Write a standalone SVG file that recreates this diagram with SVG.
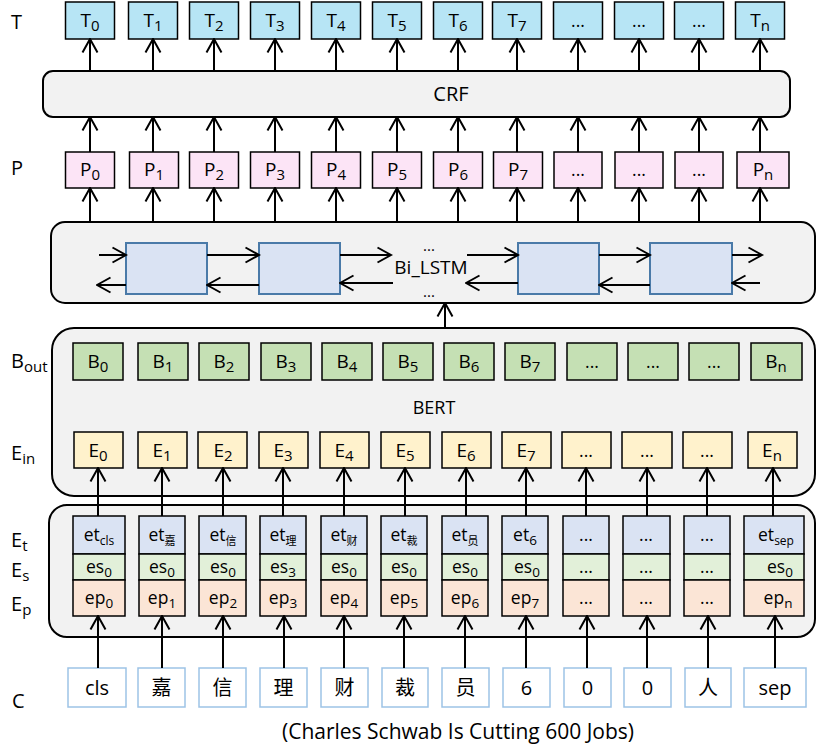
<svg xmlns="http://www.w3.org/2000/svg" width="816" height="750" viewBox="0 0 816 750">
<defs>
<marker id="arr" viewBox="0 0 16 18" refX="14.5" refY="9" markerWidth="16" markerHeight="18" markerUnits="userSpaceOnUse" orient="auto"><path d="M1,1.5 L14.5,9 L1,16.5" fill="none" stroke="#000" stroke-width="2"/></marker>
<style>
text{font-family:"Open Sans","Noto Sans CJK SC",sans-serif;fill:#000}
.t{fill:#b7e5f5;stroke:#000;stroke-width:1.5}
.p{fill:#fce4f6;stroke:#000;stroke-width:1.5}
.b{fill:#c5e0b4;stroke:#000;stroke-width:1.5}
.e{fill:#fff2cc;stroke:#000;stroke-width:1.5}
.et{fill:#dae3f3;stroke:#000;stroke-width:1.5}
.es{fill:#e2f0d9;stroke:#000;stroke-width:1.5}
.ep{fill:#fbe5d6;stroke:#000;stroke-width:1.5}
.c{fill:#fff;stroke:#9dc3e6;stroke-width:1.5}
.big{fill:#f2f2f2;stroke:#000;stroke-width:2}
.cell{fill:#dae3f3;stroke:#4a7aa8;stroke-width:2}
.lbl{font-size:19px;text-anchor:middle}
.sm{font-size:17.5px;text-anchor:middle}
.side{font-size:20px}
.cn{font-size:20px;text-anchor:middle}
.conn line{stroke:#000;stroke-width:2;marker-end:url(#arr)}
</style>
</defs>

<g id="side-labels">
<text class="side" x="11" y="29">T</text>
<text class="side" x="11" y="175">P</text>
<text class="side" x="11" y="368">B<tspan font-size="15" dy="4">out</tspan></text>
<text class="side" x="11" y="460">E<tspan font-size="15" dy="4">in</tspan></text>
<text class="side" x="11" y="547">E<tspan font-size="15" dy="4">t</tspan></text>
<text class="side" x="11" y="577">E<tspan font-size="15" dy="4">s</tspan></text>
<text class="side" x="11" y="611">E<tspan font-size="15" dy="4">p</tspan></text>
<text class="side" x="12" y="708">C</text>
</g>

<g id="crf"><rect class="big" x="43" y="71" width="747" height="46" rx="10"/><text x="451" y="101" font-size="20" text-anchor="middle">CRF</text></g>
<g id="bilstm"><rect class="big" x="51" y="222" width="764" height="81" rx="14"/>
<rect class="cell" x="126" y="243" width="81" height="51"/>
<rect class="cell" x="259" y="243" width="81" height="51"/>
<rect class="cell" x="518" y="243" width="81" height="51"/>
<rect class="cell" x="650" y="243" width="82" height="51"/>
<text x="431" y="274" font-size="19" text-anchor="middle">Bi_LSTM</text>
<text x="429" y="251" font-size="15" text-anchor="middle">...</text>
<text x="429" y="297" font-size="15" text-anchor="middle">...</text>
</g>
<g id="bert"><rect class="big" x="52" y="328" width="763" height="168" rx="22"/><text x="434" y="414" font-size="18" text-anchor="middle">BERT</text></g>
<g id="embedding"><rect class="big" x="49" y="505" width="766" height="132" rx="18"/></g>

<g id="T-row">
<g id="T0"><rect class="t" x="65.5" y="2" width="49" height="37"/><text class="lbl" x="90" y="27">T<tspan font-size="15" dy="4">0</tspan></text></g>
<g id="T1"><rect class="t" x="128.5" y="2" width="49" height="37"/><text class="lbl" x="153" y="27">T<tspan font-size="15" dy="4">1</tspan></text></g>
<g id="T2"><rect class="t" x="189.5" y="2" width="49" height="37"/><text class="lbl" x="214" y="27">T<tspan font-size="15" dy="4">2</tspan></text></g>
<g id="T3"><rect class="t" x="250.5" y="2" width="49" height="37"/><text class="lbl" x="275" y="27">T<tspan font-size="15" dy="4">3</tspan></text></g>
<g id="T4"><rect class="t" x="311.5" y="2" width="49" height="37"/><text class="lbl" x="336" y="27">T<tspan font-size="15" dy="4">4</tspan></text></g>
<g id="T5"><rect class="t" x="372.5" y="2" width="49" height="37"/><text class="lbl" x="397" y="27">T<tspan font-size="15" dy="4">5</tspan></text></g>
<g id="T6"><rect class="t" x="433.5" y="2" width="49" height="37"/><text class="lbl" x="458" y="27">T<tspan font-size="15" dy="4">6</tspan></text></g>
<g id="T7"><rect class="t" x="492.5" y="2" width="49" height="37"/><text class="lbl" x="517" y="27">T<tspan font-size="15" dy="4">7</tspan></text></g>
<g id="T8"><rect class="t" x="553.5" y="2" width="49" height="37"/><text class="sm" x="578" y="27">...</text></g>
<g id="T9"><rect class="t" x="614.5" y="2" width="49" height="37"/><text class="sm" x="639" y="27">...</text></g>
<g id="T10"><rect class="t" x="674.5" y="2" width="49" height="37"/><text class="sm" x="699" y="27">...</text></g>
<g id="Tn"><rect class="t" x="735.5" y="2" width="49" height="37"/><text class="lbl" x="760" y="27">T<tspan font-size="15" dy="4">n</tspan></text></g>
</g>

<g id="P-row">
<g id="P0"><rect class="p" x="65.5" y="152" width="49" height="36"/><text class="lbl" x="90" y="176">P<tspan font-size="15" dy="4">0</tspan></text></g>
<g id="P1"><rect class="p" x="129.5" y="152" width="49" height="36"/><text class="lbl" x="154" y="176">P<tspan font-size="15" dy="4">1</tspan></text></g>
<g id="P2"><rect class="p" x="189.5" y="152" width="49" height="36"/><text class="lbl" x="214" y="176">P<tspan font-size="15" dy="4">2</tspan></text></g>
<g id="P3"><rect class="p" x="250.5" y="152" width="49" height="36"/><text class="lbl" x="275" y="176">P<tspan font-size="15" dy="4">3</tspan></text></g>
<g id="P4"><rect class="p" x="311.5" y="152" width="49" height="36"/><text class="lbl" x="336" y="176">P<tspan font-size="15" dy="4">4</tspan></text></g>
<g id="P5"><rect class="p" x="372.5" y="152" width="49" height="36"/><text class="lbl" x="397" y="176">P<tspan font-size="15" dy="4">5</tspan></text></g>
<g id="P6"><rect class="p" x="433.5" y="152" width="49" height="36"/><text class="lbl" x="458" y="176">P<tspan font-size="15" dy="4">6</tspan></text></g>
<g id="P7"><rect class="p" x="493.5" y="152" width="49" height="36"/><text class="lbl" x="518" y="176">P<tspan font-size="15" dy="4">7</tspan></text></g>
<g id="P8"><rect class="p" x="554" y="152" width="48" height="36"/><text class="sm" x="578" y="176">...</text></g>
<g id="P9"><rect class="p" x="615" y="152" width="48" height="36"/><text class="sm" x="639" y="176">...</text></g>
<g id="P10"><rect class="p" x="675" y="152" width="48" height="36"/><text class="sm" x="699" y="176">...</text></g>
<g id="Pn"><rect class="p" x="737" y="152" width="52" height="36"/><text class="lbl" x="763" y="176">P<tspan font-size="15" dy="4">n</tspan></text></g>
</g>

<g id="B-row">
<g id="B0"><rect class="b" x="73" y="343" width="50" height="37"/><text class="lbl" x="98" y="368">B<tspan font-size="15" dy="4">0</tspan></text></g>
<g id="B1"><rect class="b" x="138" y="343" width="50" height="37"/><text class="lbl" x="163" y="368">B<tspan font-size="15" dy="4">1</tspan></text></g>
<g id="B2"><rect class="b" x="199" y="343" width="50" height="37"/><text class="lbl" x="224" y="368">B<tspan font-size="15" dy="4">2</tspan></text></g>
<g id="B3"><rect class="b" x="261" y="343" width="50" height="37"/><text class="lbl" x="286" y="368">B<tspan font-size="15" dy="4">3</tspan></text></g>
<g id="B4"><rect class="b" x="322" y="343" width="50" height="37"/><text class="lbl" x="347" y="368">B<tspan font-size="15" dy="4">4</tspan></text></g>
<g id="B5"><rect class="b" x="383" y="343" width="50" height="37"/><text class="lbl" x="408" y="368">B<tspan font-size="15" dy="4">5</tspan></text></g>
<g id="B6"><rect class="b" x="444" y="343" width="50" height="37"/><text class="lbl" x="469" y="368">B<tspan font-size="15" dy="4">6</tspan></text></g>
<g id="B7"><rect class="b" x="505" y="343" width="50" height="37"/><text class="lbl" x="530" y="368">B<tspan font-size="15" dy="4">7</tspan></text></g>
<g id="B8"><rect class="b" x="567" y="343" width="50" height="37"/><text class="sm" x="592" y="368">...</text></g>
<g id="B9"><rect class="b" x="628" y="343" width="50" height="37"/><text class="sm" x="653" y="368">...</text></g>
<g id="B10"><rect class="b" x="689" y="343" width="50" height="37"/><text class="sm" x="714" y="368">...</text></g>
<g id="Bn"><rect class="b" x="751" y="343" width="51" height="37"/><text class="lbl" x="776" y="368">B<tspan font-size="15" dy="4">n</tspan></text></g>
</g>

<g id="E-row">
<g id="E0"><rect class="e" x="74" y="432" width="49" height="36"/><text class="lbl" x="98" y="457">E<tspan font-size="15" dy="4">0</tspan></text></g>
<g id="E1"><rect class="e" x="138" y="432" width="49" height="36"/><text class="lbl" x="162" y="457">E<tspan font-size="15" dy="4">1</tspan></text></g>
<g id="E2"><rect class="e" x="198" y="432" width="49" height="36"/><text class="lbl" x="223" y="457">E<tspan font-size="15" dy="4">2</tspan></text></g>
<g id="E3"><rect class="e" x="259" y="432" width="49" height="36"/><text class="lbl" x="283" y="457">E<tspan font-size="15" dy="4">3</tspan></text></g>
<g id="E4"><rect class="e" x="320" y="432" width="49" height="36"/><text class="lbl" x="344" y="457">E<tspan font-size="15" dy="4">4</tspan></text></g>
<g id="E5"><rect class="e" x="381" y="432" width="49" height="36"/><text class="lbl" x="405" y="457">E<tspan font-size="15" dy="4">5</tspan></text></g>
<g id="E6"><rect class="e" x="442" y="432" width="49" height="36"/><text class="lbl" x="466" y="457">E<tspan font-size="15" dy="4">6</tspan></text></g>
<g id="E7"><rect class="e" x="502" y="432" width="49" height="36"/><text class="lbl" x="526" y="457">E<tspan font-size="15" dy="4">7</tspan></text></g>
<g id="E8"><rect class="e" x="562" y="432" width="49" height="36"/><text class="sm" x="586" y="457">...</text></g>
<g id="E9"><rect class="e" x="622" y="432" width="50" height="36"/><text class="sm" x="647" y="457">...</text></g>
<g id="E10"><rect class="e" x="683" y="432" width="49" height="36"/><text class="sm" x="707" y="457">...</text></g>
<g id="En"><rect class="e" x="748" y="432" width="49" height="36"/><text class="lbl" x="772" y="457">E<tspan font-size="15" dy="4">n</tspan></text></g>
</g>

<g id="emb-stacks">
<g id="S0"><rect class="et" x="73" y="516" width="52" height="38"/><rect class="es" x="73" y="554" width="52" height="26"/><rect class="ep" x="73" y="580" width="52" height="36"/>
<text class="sm" x="99" y="541">et<tspan font-size="12" dy="4">cls</tspan></text><text class="sm" x="99" y="573">es<tspan font-size="13.5" dy="4">0</tspan></text><text class="sm" x="99" y="604">ep<tspan font-size="13.5" dy="4">0</tspan></text></g>
<g id="S1"><rect class="et" x="139" y="516" width="46" height="38"/><rect class="es" x="139" y="554" width="46" height="26"/><rect class="ep" x="139" y="580" width="46" height="36"/>
<text class="sm" x="162" y="541">et<tspan font-size="11" dy="4">嘉</tspan></text><text class="sm" x="162" y="573">es<tspan font-size="13.5" dy="4">0</tspan></text><text class="sm" x="162" y="604">ep<tspan font-size="13.5" dy="4">1</tspan></text></g>
<g id="S2"><rect class="et" x="199" y="516" width="47" height="38"/><rect class="es" x="199" y="554" width="47" height="26"/><rect class="ep" x="199" y="580" width="47" height="36"/>
<text class="sm" x="223" y="541">et<tspan font-size="11" dy="4">信</tspan></text><text class="sm" x="223" y="573">es<tspan font-size="13.5" dy="4">0</tspan></text><text class="sm" x="223" y="604">ep<tspan font-size="13.5" dy="4">2</tspan></text></g>
<g id="S3"><rect class="et" x="260" y="516" width="46" height="38"/><rect class="es" x="260" y="554" width="46" height="26"/><rect class="ep" x="260" y="580" width="46" height="36"/>
<text class="sm" x="283" y="541">et<tspan font-size="11" dy="4">理</tspan></text><text class="sm" x="283" y="573">es<tspan font-size="13.5" dy="4">3</tspan></text><text class="sm" x="283" y="604">ep<tspan font-size="13.5" dy="4">3</tspan></text></g>
<g id="S4"><rect class="et" x="321" y="516" width="46" height="38"/><rect class="es" x="321" y="554" width="46" height="26"/><rect class="ep" x="321" y="580" width="46" height="36"/>
<text class="sm" x="344" y="541">et<tspan font-size="11" dy="4">财</tspan></text><text class="sm" x="344" y="573">es<tspan font-size="13.5" dy="4">0</tspan></text><text class="sm" x="344" y="604">ep<tspan font-size="13.5" dy="4">4</tspan></text></g>
<g id="S5"><rect class="et" x="381" y="516" width="46" height="38"/><rect class="es" x="381" y="554" width="46" height="26"/><rect class="ep" x="381" y="580" width="46" height="36"/>
<text class="sm" x="404" y="541">et<tspan font-size="11" dy="4">裁</tspan></text><text class="sm" x="404" y="573">es<tspan font-size="13.5" dy="4">0</tspan></text><text class="sm" x="404" y="604">ep<tspan font-size="13.5" dy="4">5</tspan></text></g>
<g id="S6"><rect class="et" x="442" y="516" width="46" height="38"/><rect class="es" x="442" y="554" width="46" height="26"/><rect class="ep" x="442" y="580" width="46" height="36"/>
<text class="sm" x="465" y="541">et<tspan font-size="11" dy="4">员</tspan></text><text class="sm" x="465" y="573">es<tspan font-size="13.5" dy="4">0</tspan></text><text class="sm" x="465" y="604">ep<tspan font-size="13.5" dy="4">6</tspan></text></g>
<g id="S7"><rect class="et" x="502" y="516" width="46" height="38"/><rect class="es" x="502" y="554" width="46" height="26"/><rect class="ep" x="502" y="580" width="46" height="36"/>
<text class="sm" x="525" y="541">et<tspan font-size="13.5" dy="4">6</tspan></text><text class="sm" x="527" y="573">es<tspan font-size="13.5" dy="4">0</tspan></text><text class="sm" x="525" y="604">ep<tspan font-size="13.5" dy="4">7</tspan></text></g>
<g id="S8"><rect class="et" x="563" y="516" width="46" height="38"/><rect class="es" x="563" y="554" width="46" height="26"/><rect class="ep" x="563" y="580" width="46" height="36"/>
<text class="sm" x="586" y="541">...</text><text class="sm" x="586" y="573">...</text><text class="sm" x="586" y="604">...</text></g>
<g id="S9"><rect class="et" x="623" y="516" width="47" height="38"/><rect class="es" x="623" y="554" width="47" height="26"/><rect class="ep" x="623" y="580" width="47" height="36"/>
<text class="sm" x="646" y="541">...</text><text class="sm" x="646" y="573">...</text><text class="sm" x="646" y="604">...</text></g>
<g id="S10"><rect class="et" x="684" y="516" width="46" height="38"/><rect class="es" x="684" y="554" width="46" height="26"/><rect class="ep" x="684" y="580" width="46" height="36"/>
<text class="sm" x="707" y="541">...</text><text class="sm" x="707" y="573">...</text><text class="sm" x="707" y="604">...</text></g>
<g id="S11"><rect class="et" x="744" y="516" width="60" height="38"/><rect class="es" x="744" y="554" width="60" height="26"/><rect class="ep" x="744" y="580" width="60" height="36"/>
<text class="sm" x="776" y="541">et<tspan font-size="12" dy="4">sep</tspan></text><text class="sm" x="780" y="573">es<tspan font-size="13.5" dy="4">0</tspan></text><text class="sm" x="778" y="604">ep<tspan font-size="13.5" dy="4">n</tspan></text></g>
</g>

<g id="C-row">
<g id="C0"><rect class="c" x="68" y="668" width="58" height="39"/><text class="cn" x="97" y="695">cls</text></g>
<g id="C1"><rect class="c" x="138" y="668" width="47" height="39"/><text class="cn" x="161.5" y="695">嘉</text></g>
<g id="C2"><rect class="c" x="199" y="668" width="47" height="39"/><text class="cn" x="222.5" y="695">信</text></g>
<g id="C3"><rect class="c" x="260" y="668" width="47" height="39"/><text class="cn" x="283.5" y="695">理</text></g>
<g id="C4"><rect class="c" x="321" y="668" width="47" height="39"/><text class="cn" x="344.5" y="695">财</text></g>
<g id="C5"><rect class="c" x="382" y="668" width="46" height="39"/><text class="cn" x="405" y="695">裁</text></g>
<g id="C6"><rect class="c" x="442" y="668" width="47" height="39"/><text class="cn" x="465.5" y="695">员</text></g>
<g id="C7"><rect class="c" x="503" y="668" width="47" height="39"/><text class="cn" x="526.5" y="695">6</text></g>
<g id="C8"><rect class="c" x="564" y="668" width="47" height="39"/><text class="cn" x="587.5" y="695">0</text></g>
<g id="C9"><rect class="c" x="624" y="668" width="47" height="39"/><text class="cn" x="647.5" y="695">0</text></g>
<g id="C10"><rect class="c" x="685" y="668" width="46" height="39"/><text class="cn" x="708" y="695">人</text></g>
<g id="C11"><rect class="c" x="744" y="668" width="62" height="39"/><text class="cn" x="775" y="695">sep</text></g>
</g>

<g id="caption"><text x="458" y="739" font-size="21" text-anchor="middle">(Charles Schwab Is Cutting 600 Jobs)</text></g>

<g id="connectors" class="conn">
<line x1="90" y1="71" x2="90" y2="39"/><line x1="153" y1="71" x2="153" y2="39"/><line x1="214" y1="71" x2="214" y2="39"/><line x1="275" y1="71" x2="275" y2="39"/><line x1="336" y1="71" x2="336" y2="39"/><line x1="397" y1="71" x2="397" y2="39"/><line x1="458" y1="71" x2="458" y2="39"/><line x1="517" y1="71" x2="517" y2="39"/><line x1="578" y1="71" x2="578" y2="39"/><line x1="639" y1="71" x2="639" y2="39"/><line x1="699" y1="71" x2="699" y2="39"/><line x1="760" y1="71" x2="760" y2="39"/>
<line x1="90" y1="152" x2="90" y2="117"/><line x1="153" y1="152" x2="153" y2="117"/><line x1="214" y1="152" x2="214" y2="117"/><line x1="275" y1="152" x2="275" y2="117"/><line x1="336" y1="152" x2="336" y2="117"/><line x1="397" y1="152" x2="397" y2="117"/><line x1="458" y1="152" x2="458" y2="117"/><line x1="517" y1="152" x2="517" y2="117"/><line x1="578" y1="152" x2="578" y2="117"/><line x1="639" y1="152" x2="639" y2="117"/><line x1="699" y1="152" x2="699" y2="117"/><line x1="760" y1="152" x2="760" y2="117"/>
<line x1="90" y1="222" x2="90" y2="188"/><line x1="153" y1="222" x2="153" y2="188"/><line x1="214" y1="222" x2="214" y2="188"/><line x1="275" y1="222" x2="275" y2="188"/><line x1="336" y1="222" x2="336" y2="188"/><line x1="397" y1="222" x2="397" y2="188"/><line x1="458" y1="222" x2="458" y2="188"/><line x1="517" y1="222" x2="517" y2="188"/><line x1="578" y1="222" x2="578" y2="188"/><line x1="639" y1="222" x2="639" y2="188"/><line x1="699" y1="222" x2="699" y2="188"/><line x1="760" y1="222" x2="760" y2="188"/>
<line x1="99" y1="255" x2="126" y2="255"/><line x1="207" y1="255" x2="259" y2="255"/><line x1="340" y1="255" x2="391" y2="255"/><line x1="467" y1="255" x2="518" y2="255"/><line x1="599" y1="255" x2="650" y2="255"/><line x1="732" y1="255" x2="762" y2="255"/>
<line x1="126" y1="285" x2="97" y2="285"/><line x1="259" y1="285" x2="207" y2="285"/><line x1="393" y1="283" x2="340" y2="283"/><line x1="518" y1="283" x2="466" y2="283"/><line x1="650" y1="285" x2="599" y2="285"/><line x1="760" y1="283" x2="732" y2="283"/>
<line x1="445" y1="328" x2="445" y2="303"/>
<line x1="98" y1="516" x2="98" y2="468"/><line x1="162" y1="516" x2="162" y2="468"/><line x1="223" y1="516" x2="223" y2="468"/><line x1="283" y1="516" x2="283" y2="468"/><line x1="344" y1="516" x2="344" y2="468"/><line x1="405" y1="516" x2="405" y2="468"/><line x1="466" y1="516" x2="466" y2="468"/><line x1="526" y1="516" x2="526" y2="468"/><line x1="586" y1="516" x2="586" y2="468"/><line x1="647" y1="516" x2="647" y2="468"/><line x1="707" y1="516" x2="707" y2="468"/><line x1="773" y1="516" x2="773" y2="468"/>
<line x1="98" y1="668" x2="98" y2="616"/><line x1="162" y1="668" x2="162" y2="616"/><line x1="223" y1="668" x2="223" y2="616"/><line x1="284" y1="668" x2="284" y2="616"/><line x1="344" y1="668" x2="344" y2="616"/><line x1="404" y1="668" x2="404" y2="616"/><line x1="465" y1="668" x2="465" y2="616"/><line x1="526" y1="668" x2="526" y2="616"/><line x1="587" y1="668" x2="587" y2="616"/><line x1="647" y1="668" x2="647" y2="616"/><line x1="708" y1="668" x2="708" y2="616"/><line x1="775" y1="668" x2="775" y2="616"/>
</g>
</svg>
